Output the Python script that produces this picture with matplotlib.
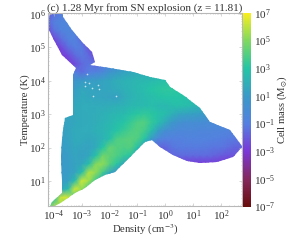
import numpy as np
import matplotlib
matplotlib.use("Agg")
import matplotlib.pyplot as plt
from matplotlib.colors import LinearSegmentedColormap, LogNorm
from matplotlib.patches import Polygon
from matplotlib.ticker import NullFormatter

plt.rcParams['font.family'] = ['Liberation Serif', 'DejaVu Serif']
plt.rcParams['mathtext.fontset'] = 'stix'

title = "(c) 1.28 Myr from SN explosion (z = 11.81)"
xlabel = r"Density (cm$^{-3}$)"
ylabel = "Temperature (K)"
cbar_label = r"Cell mass (M$_{\odot}$)"
x_tick_exponents = [-4, -3, -2, -1, 0, 1, 2]
y_tick_exponents = [1, 2, 3, 4, 5, 6]
cbar_tick_exponents = [-7, -5, -3, -1, 1, 3, 5, 7]

log_density = [-4.25 + 0.25 * i for i in range(29)]
log_temperature = [6.0 - 0.25 * i for i in range(24)]

# log10 of the cell mass in each density/temperature cell, hottest row first
row_600 = [-2,-1.4,-1,-1,-1.6,-3,-3,-3,-3,-3,-3,-3,-3,-3,-3,-3,-3,-3,-3,-3,-3,-3,-3,-3,-3,-3,-3,-3,-3]
row_575 = [-1.8,-.9,-.6,-.6,-1.1,-2.5,-3,-3,-3,-3,-3,-3,-3,-3,-3,-3,-3,-3,-3,-3,-3,-3,-3,-3,-3,-3,-3,-3,-3]
row_550 = [-2.5,-1.4,-.8,-.6,-.8,-2,-3,-3,-3,-3,-3,-3,-3,-3,-3,-3,-3,-3,-3,-3,-3,-3,-3,-3,-3,-3,-3,-3,-3]
row_525 = [-3,-2.5,-1.5,-.8,-.8,-1.6,-2.6,-3,-3,-3,-3,-3,-3,-3,-3,-3,-3,-3,-3,-3,-3,-3,-3,-3,-3,-3,-3,-3,-3]
row_500 = [-3,-3,-2.5,-1.5,-1,-1.1,-2.2,-3,-3,-3,-3,-3,-3,-3,-3,-3,-3,-3,-3,-3,-3,-3,-3,-3,-3,-3,-3,-3,-3]
row_475 = [-3,-3,-3,-2.5,-1.6,-1.2,-1.6,-2.6,-3,-3,-3,-3,-3,-3,-3,-3,-3,-3,-3,-3,-3,-3,-3,-3,-3,-3,-3,-3,-3]
row_450 = [-3,-3,-3,-3,-2.5,-1.6,-1.3,-1.6,-1.2,-.4,0,.3,.5,.6,.7,.8,.8,.9,.9,.9,.9,.9,.9,.9,.9,.9,.9,.9,.9]
row_425 = [-1,-1,-1,-1,-1,-1.5,-1,-.8,-.3,.5,1,1.4,1.6,1.8,1.9,2,2.1,2.1,2.1,2.1,2.1,2.1,2.1,2.1,2.1,2.1,2.1,2.1,2.1]
row_400 = [.2,.2,.2,.2,.7,1,1.1,1.2,1.4,1.6,1.9,2.1,2.2,2.3,2.4,2.5,2.6,2.7,2.7,2.7,2.6,2.5,2.5,2.5,2.5,2.5,2.5,2.5,2.5]
row_375 = [1,1,1,1,1.2,1.6,1.5,1.4,1.5,1.6,1.8,2,2.2,2.4,2.6,2.9,3.1,3.2,3.2,3.1,2.9,2.7,2.5,2.5,2.5,2.5,2.5,2.5,2.5]
row_350 = [1.4,1.4,1.4,1.4,1.4,1.7,1.6,1.5,1.5,1.4,1.3,1.8,2.1,2.3,2.5,2.6,2.8,2.9,2.9,2.9,2.8,2.7,2.5,2.4,2.3,2.3,2.3,2.3,2.3]
row_325 = [1.6,1.6,1.6,1.6,1.6,1.8,1.8,1.8,1.8,1.9,2,2.1,2.3,2.4,2.5,2.6,2.4,2.4,2.6,2.7,2.6,2.4,2.2,1.9,1.6,1.2,1,1,1]
row_300 = [1.5,1.5,1.5,1.5,1.6,1.7,1.8,1.9,2,2.2,2.3,2.5,2.8,3.1,3.3,3.1,2.8,2.6,2.0,1.5,1.4,1.3,1.1,.9,.6,.3,.2,.2,.2]
row_275 = [1.4,1.4,1.4,1.4,1.6,1.7,1.8,1.9,2.1,2.3,2.6,2.9,3.4,3.9,4,3.3,2.6,1.7,.8,.3,.1,.1,0,-.1,-.2,-.3,-.3,-.4,-.4]
row_250 = [1.3,1.3,1.3,1.5,1.7,1.8,1.8,2,2.2,2.5,2.9,3.4,3.8,4.1,3.7,2.6,1.2,.2,-.2,-.4,-.4,-.4,-.5,-.5,-.6,-.6,-.7,-.7,-.8]
row_225 = [1.2,1.2,1.2,1.4,1.7,1.7,1.6,1.8,2.1,2.7,3.9,4.1,4.2,3.9,3,1,-.6,-.9,-.9,-.9,-.8,-.8,-.8,-.8,-.9,-1,-1.1,-1.2,-1.4]
row_200 = [1.1,1.1,1.1,1.3,1.6,1.5,1.4,1.8,3,4.4,4.1,3.9,4,2.8,1,-1.5,-1.8,-1.7,-1.3,-1.1,-1.1,-1.1,-1.1,-1.2,-1.3,-1.3,-1.5,-1.8,-1.8]
row_175 = [1,1,1,1.2,1.5,1.3,1.6,2.8,4.7,4.3,3.9,3.4,3,1.2,-.5,-2,-2.2,-2,-1.8,-1.6,-1.6,-1.6,-1.6,-1.6,-1.8,-2,-2.2,-2.2,-2.2]
row_150 = [1,1,1,1.1,1.4,1.6,2.7,5.1,5.2,4.1,3.1,1.6,1,0,-1,-2,-2.5,-3,-3,-3,-3,-3,-3,-3,-3,-3,-3,-3,-3]
row_125 = [1,1,1,1.1,1.4,2.7,5.8,5.3,3.6,1.6,.5,0,-1,-1,-1,-2,-2,-2,-2,-2,-2,-2,-2,-2,-2,-2,-2,-2,-2]
row_100 = [1.1,1.1,1.1,1.3,2.6,6.3,5.5,3.4,1.6,.5,-1,-1,-1,-1,-1,-2,-2,-2,-2,-2,-2,-2,-2,-2,-2,-2,-2,-2,-2]
row_075 = [1.2,1.2,1.5,2.6,6.4,5.2,3.2,1.5,.5,.5,-1,-1,-1,-1,-1,-2,-2,-2,-2,-2,-2,-2,-2,-2,-2,-2,-2,-2,-2]
row_050 = [1.5,2.4,6.3,6.3,3.4,1.5,.5,.5,.5,.5,-1,-1,-1,-1,-1,-2,-2,-2,-2,-2,-2,-2,-2,-2,-2,-2,-2,-2,-2]
row_025 = [3.5,5.5,5.5,2.8,1.5,.5,.5,.5,.5,.5,-1,-1,-1,-1,-1,-2,-2,-2,-2,-2,-2,-2,-2,-2,-2,-2,-2,-2,-2]

log_mass = [row_600, row_575, row_550, row_525, row_500, row_475, row_450, row_425,
            row_400, row_375, row_350, row_325, row_300, row_275, row_250, row_225,
            row_200, row_175, row_150, row_125, row_100, row_075, row_050, row_025]

# outline of the occupied region of the phase diagram
outline_logn = [-4.14,-3.68,-3.68,-3.35,-2.99,-2.63,-2.53,-2.71,-1.99,-1.16,-0.55,-0.01,0.17,0.64,1.25,1.61,2.33,2.76,
                2.76,2.44,1.86,1.25,0.78,0.28,-0.19,-0.47,-0.73,-1.09,-1.45,-1.81,-2.17,-2.53,-2.88,-3.24,-3.71,-3.96,-4.14,
                -4.07,-3.71,-3.71,-3.75,-3.71,-3.68,-3.60,-3.32,-3.32,-3.32,-3.21,-3.71,-3.96,-4.22,-4.22]
outline_logt = [6.03,6.03,5.91,5.52,5.16,4.86,4.56,4.47,4.38,4.26,4.11,4.02,3.81,3.57,3.19,2.77,2.53,2.05,
                2.02,1.72,1.57,1.54,1.60,1.78,2.02,2.23,2.17,1.87,1.57,1.27,1.18,1.03,0.79,0.64,0.37,0.25,0.25,
                0.37,0.64,1.03,1.72,2.23,2.53,2.89,2.98,4.11,4.17,4.38,4.77,5.16,5.58,5.76]

# small empty cells inside the hot part of the body
hole_logn = [-2.81,-2.88,-2.74,-2.88,-2.63,-2.42,-2.38,-2.6,-1.77]
hole_logt = [4.2,3.96,3.93,3.84,3.78,3.87,3.75,3.54,3.54]

cbar_stops = ["#6a0d0d", "#84285f", "#7a38d8", "#5580e0", "#3a9ac8", "#25c5a5", "#7fd860", "#f8ee20"]
cmap = LinearSegmentedColormap.from_list("phase", cbar_stops)
norm = LogNorm(1e-7, 1e7)

fig = plt.figure(figsize=(3.0, 2.46), dpi=100)
ax = fig.add_axes([48/300, 1-206/246, 194/300, 193/246])
ax.set_xscale("log")
ax.set_yscale("log")
X = 10.0 ** np.array(log_density)
Y = 10.0 ** np.array(log_temperature)
Z = 10.0 ** np.array(log_mass)
mesh = ax.pcolormesh(X, Y, Z, cmap=cmap, norm=norm, shading="gouraud", rasterized=True)
clip = Polygon(np.column_stack([10.0 ** np.array(outline_logn), 10.0 ** np.array(outline_logt)]),
               closed=True, transform=ax.transData, fc="none", ec="none")
ax.add_patch(clip)
mesh.set_clip_path(clip)
ax.scatter(10.0 ** np.array(hole_logn), 10.0 ** np.array(hole_logt), s=1.5, c="white", linewidths=0, alpha=0.7)

xmin, xmax = 10**-4.22, 10**2.76
ymin, ymax = 10**0.25, 10**6.03
ax.set_xticks([10.0**k for k in x_tick_exponents])
ax.set_yticks([10.0**k for k in y_tick_exponents])
x_minor = [m * 10.0**k for k in range(-5, 3) for m in range(2, 10)]
y_minor = [m * 10.0**k for k in range(0, 6) for m in range(2, 10)]
ax.set_xticks([v for v in x_minor if xmin <= v <= xmax], minor=True)
ax.set_yticks([v for v in y_minor if ymin <= v <= ymax], minor=True)
ax.xaxis.set_minor_formatter(NullFormatter())
ax.yaxis.set_minor_formatter(NullFormatter())
ax.set_xlim(xmin, xmax)
ax.set_ylim(ymin, ymax)

grey = "#b8b8b8"
for s in ax.spines.values():
    s.set_color(grey)
    s.set_linewidth(0.8)
ax.tick_params(which="both", direction="in", color=grey, labelsize=8, labelcolor="#333333", pad=1.5, top=True, right=True, width=0.4)
ax.tick_params(which="major", length=2)
ax.tick_params(which="minor", length=1)
ax.set_xlabel(xlabel, fontsize=7.7, color="#333333", labelpad=0)
ax.set_ylabel(ylabel, fontsize=7.7, color="#333333", labelpad=-1)
ax.set_title(title, fontsize=8, color="#333333", pad=1.5)

cax = fig.add_axes([242.5/300, 1-206.5/246, 8.5/300, 193.5/246])
cb = fig.colorbar(mesh, cax=cax)
cb.set_ticks([10.0**k for k in cbar_tick_exponents])
cb.ax.minorticks_off()
cb.ax.tick_params(labelsize=8, labelcolor="#333333", length=0, pad=2)
cb.outline.set_visible(False)
cb.set_label(cbar_label, fontsize=7.7, color="#333333", labelpad=0)

fig.savefig("out.png", dpi=100)
